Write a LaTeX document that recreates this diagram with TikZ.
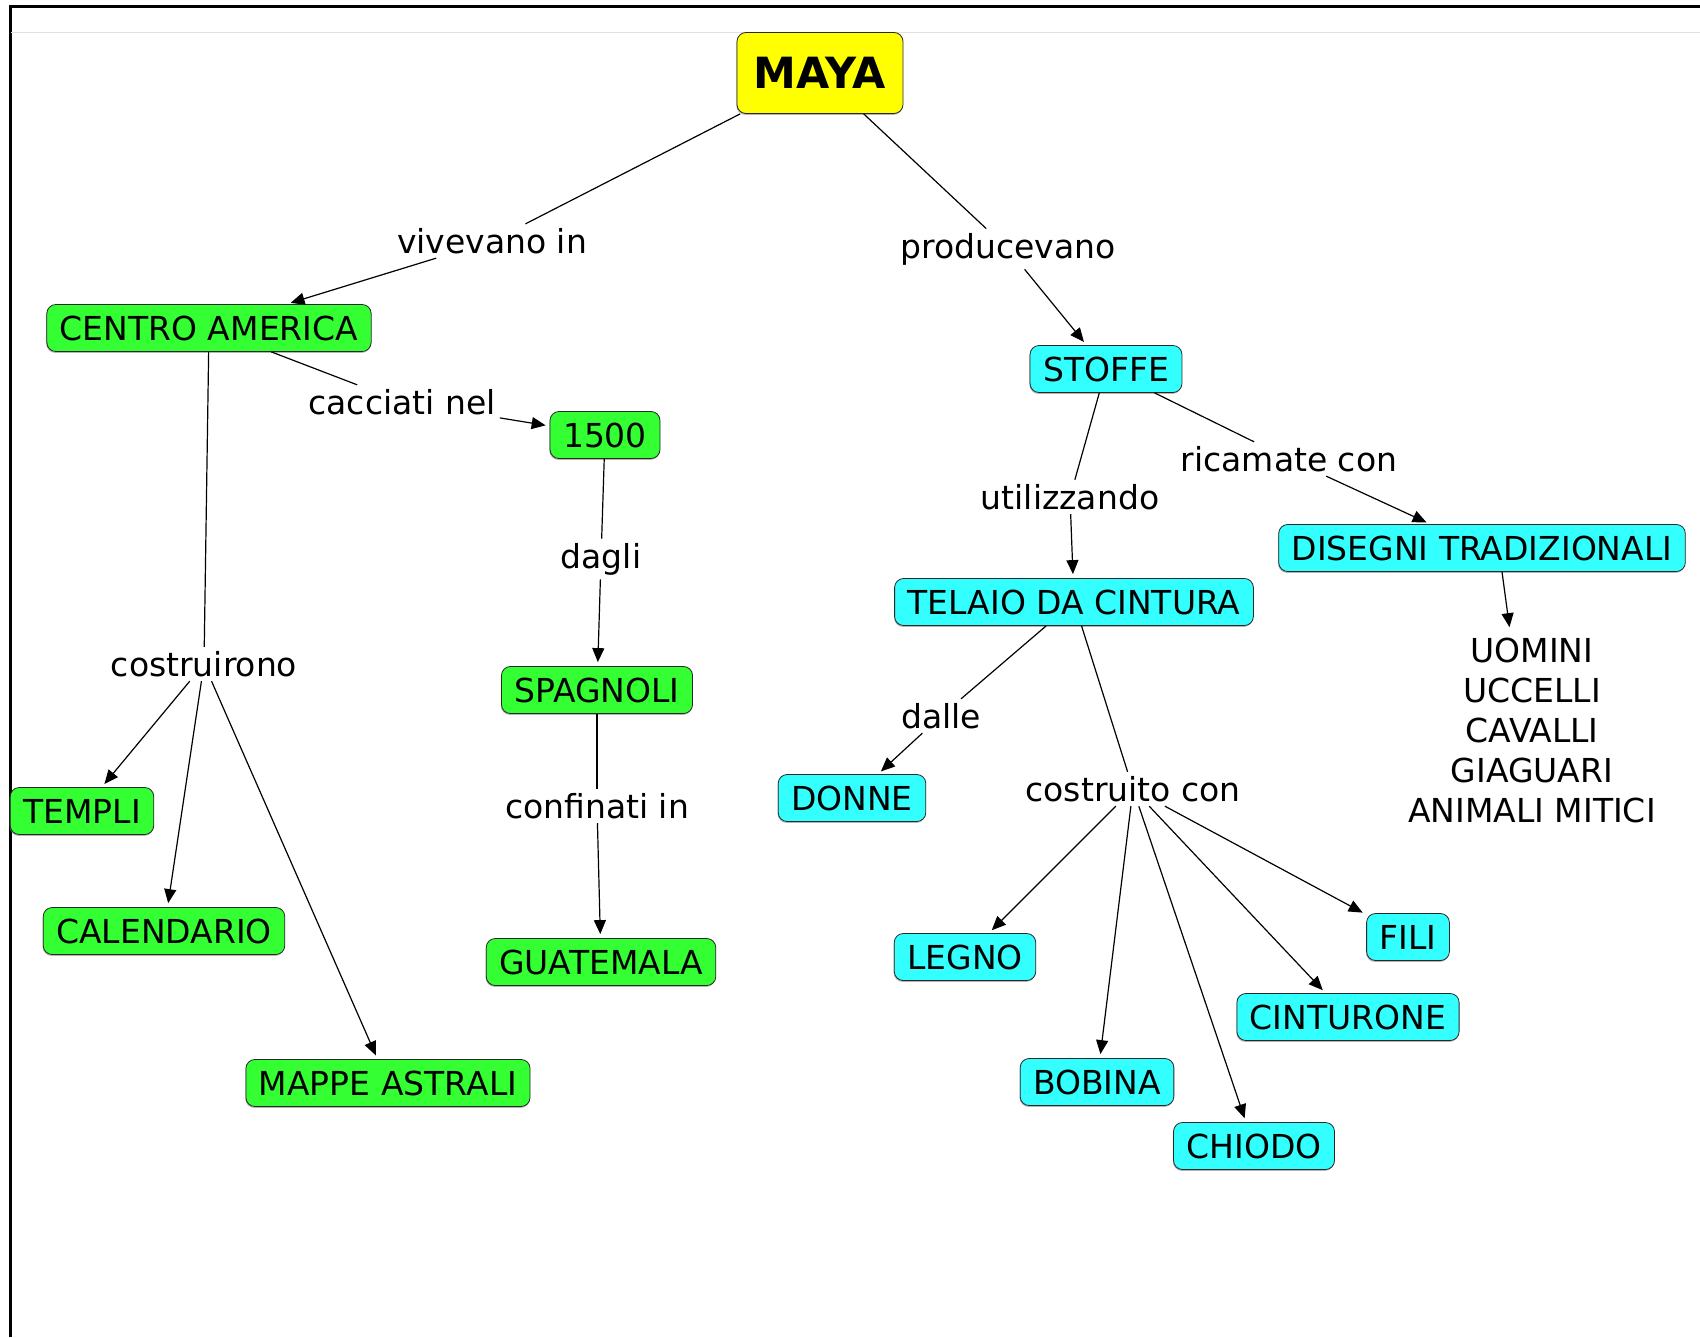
\documentclass[tikz,border=0pt]{standalone}
\usepackage{fontspec}
\setmainfont{DejaVu Sans}
\usetikzlibrary{arrows.meta,shadows}
\definecolor{mayayellow}{RGB}{255,255,0}
\definecolor{mayagreen}{RGB}{51,255,51}
\definecolor{mayacyan}{RGB}{51,255,255}
\definecolor{boxline}{RGB}{40,40,40}
\begin{document}
\begin{tikzpicture}[x=0.5pt,y=-0.5pt,>={Triangle[length=7pt,width=6pt]},font=\fontsize{16.5}{20}\selectfont]
	\tikzstyle{concept} = [draw=boxline,rounded corners=4.5pt,inner xsep=6.5pt,minimum height=23.5pt,text height=12pt,text depth=0pt,drop shadow={shadow xshift=-0.3pt,shadow yshift=-0.7pt,opacity=0.6}]
	\tikzstyle{place} = [concept,fill=mayagreen]
	\tikzstyle{cloth} = [concept,fill=mayacyan]
	\tikzstyle{phrase} = [inner sep=2pt]
	\tikzstyle{link} = [->,shorten >=2pt]
	\useasboundingbox (0,0) rectangle (1700,1337);
	\draw[line width=1.5pt] (10,1337) -- (10,6.5) -- (1700,6.5);
	\draw[black!12] (11,32) -- (1700,32);

	\node (maya) [concept,fill=mayayellow,font=\fontsize{21.5}{24}\selectfont\bfseries,minimum width=83pt,minimum height=40.5pt,text height=16pt] at (820,73) {MAYA};
	% left side
	\node (centro) [place] at (209,328) {CENTRO AMERICA};
	\node (n1500) [place] at (605,435) {1500};
	\node (spagnoli) [place] at (597,690) {SPAGNOLI};
	\node (guatemala) [place] at (601,962) {GUATEMALA};
	\node (templi) [place] at (82,811) {TEMPLI};
	\node (calendario) [place] at (164,931) {CALENDARIO};
	\node (mappe) [place] at (388,1083) {MAPPE ASTRALI};
	\node (vivevano) [phrase] at (492,241) {vivevano in};
	\node (cacciati) [phrase] at (402,402) {cacciati nel};
	\node (dagli) [phrase] at (601,559) {dagli};
	\node (confinati) [phrase] at (597,806) {confinati in};
	\node (costruirono) [phrase] at (204,664) {costruirono};
	% right side
	\node (stoffe) [cloth] at (1106,369) {STOFFE};
	\node (disegni) [cloth] at (1482,548) {DISEGNI TRADIZIONALI};
	\node (telaio) [cloth] at (1074,602) {TELAIO DA CINTURA};
	\node (donne) [cloth] at (852,798) {DONNE};
	\node (legno) [cloth] at (965,957) {LEGNO};
	\node (bobina) [cloth] at (1097,1082) {BOBINA};
	\node (chiodo) [cloth] at (1254,1146) {CHIODO};
	\node (cinturone) [cloth] at (1348,1017) {CINTURONE};
	\node (fili) [cloth] at (1408,937) {FILI};
	\node (animali) [align=center,inner sep=3pt] at (1532,730) {UOMINI\\UCCELLI\\CAVALLI\\GIAGUARI\\ANIMALI MITICI};
	\node (producevano) [phrase] at (1008,249) {producevano};
	\node (utilizzando) [phrase] at (1070,497) {utilizzando};
	\node (ricamate) [phrase] at (1289,459) {ricamate con};
	\node (dalle) [phrase] at (941,716) {dalle};
	\node (costruito) [phrase] at (1133,789) {costruito con};

	\begin{scope}[line width=0.6pt]
	\draw (maya) -- (vivevano);
	\draw[link] (vivevano) -- (centro);
	\draw (centro) -- (cacciati);
	\draw[link] (cacciati) -- (n1500);
	\draw (n1500) -- (dagli);
	\draw[link] (dagli) -- (spagnoli);
	\draw (spagnoli) -- (confinati);
	\draw[link] (confinati) -- (guatemala);
	\draw (centro) -- (costruirono);
	\draw[link] (costruirono) -- (templi);
	\draw[link] (costruirono) -- (calendario);
	\draw[link] (costruirono) -- (mappe);
	\draw (maya) -- (producevano);
	\draw[link] (producevano) -- (stoffe);
	\draw (stoffe) -- (utilizzando);
	\draw[link] (utilizzando) -- (telaio);
	\draw (stoffe) -- (ricamate);
	\draw[link] (ricamate) -- (disegni);
	\draw[link] ([xshift=10pt]disegni.south) -- ([xshift=-11pt]animali.north);
	\draw (telaio) -- (dalle);
	\draw[link] (dalle) -- (donne);
	\draw (telaio) -- (costruito);
	\draw[link] (costruito) -- (legno);
	\draw[link] (costruito) -- (bobina);
	\draw[link] (costruito) -- (chiodo);
	\draw[link] (costruito) -- (cinturone);
	\draw[link] (costruito) -- (fili);
	\end{scope}
\end{tikzpicture}
\end{document}
